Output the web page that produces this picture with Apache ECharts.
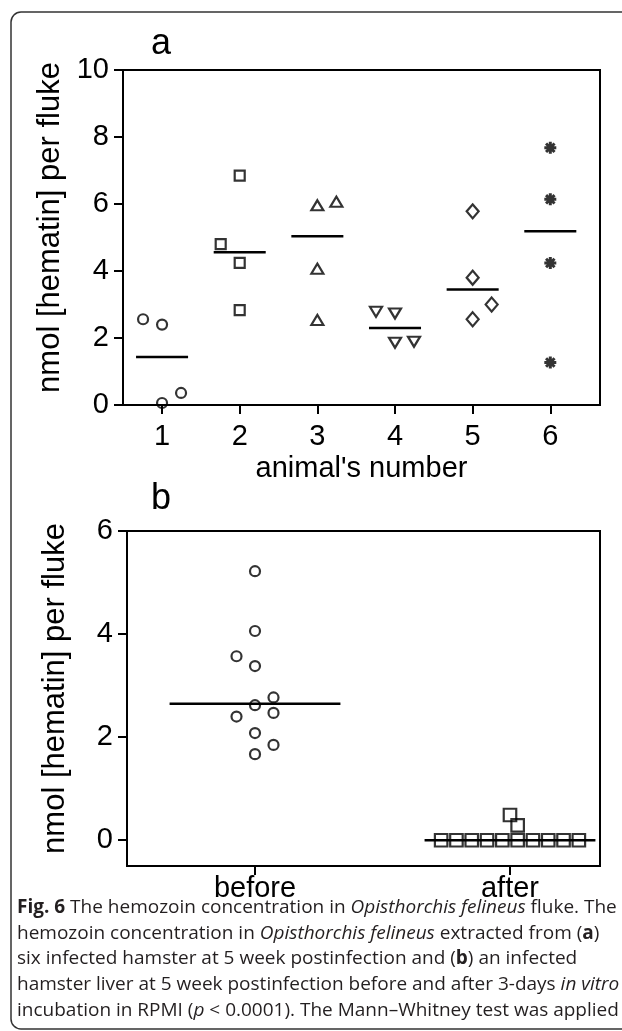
<!DOCTYPE html>
<html><head><meta charset="utf-8">
<script src="https://cdn.jsdelivr.net/npm/echarts@6/dist/echarts.min.js"></script>
<style>html,body{margin:0;padding:0;background:#fff}#c{width:622px;height:1031px}</style>
</head><body><div id="c"></div>
<script>
// ---------- data ----------
const animalCategories = ['1', '2', '3', '4', '5', '6'];
const animalValues = [
  [2.56, 2.40, 0.06, 0.36],
  [6.85, 4.80, 4.24, 2.83],
  [5.96, 6.07, 4.07, 2.54],
  [2.78, 2.73, 1.86, 1.89],
  [5.78, 3.80, 2.56, 3.00],
  [7.68, 6.14, 4.24, 1.27]
];
// dodge slot of each point
const animalSlots = [
  [-1, 0, 0, 1],
  [0, -1, 0, 0],
  [0, 1, 0, 0],
  [-1, 0, 0, 1],
  [0, 0, 0, 1],
  [0, 0, 0, 0]
];
const animalMedians = [1.43, 4.56, 5.04, 2.30, 3.45, 5.19];
const animalTicksY = [0, 2, 4, 6, 8, 10];

const stageCategories = ['before', 'after'];
const beforeValues = [5.22, 4.06, 3.57, 3.38, 2.77, 2.62, 2.47, 2.40, 2.08, 1.85, 1.67];
const beforeSlots = [0, 0, -1, 0, 1, 0, 1, -1, 0, 1, 0];
const afterValues = [0, 0, 0, 0, 0, 0, 0, 0, 0, 0, 0.49, 0.29];
const afterSlots = [-4.5, -3.5, -2.5, -1.5, -0.5, 0.5, 1.5, 2.5, 3.5, 4.5, 0, 0.5];
const stageMedians = [2.65, 0];
const stageTicksY = [0, 2, 4, 6];

const axisTitle = 'nmol [hematin] per fluke';
const xTitleA = "animal's number";
const captionLines = [
  '{b|Fig. 6} The hemozoin concentration in {i|Opisthorchis felineus} fluke. The',
  'hemozoin concentration in {i|Opisthorchis felineus} extracted from ({b|a})',
  'six infected hamster at 5 week postinfection and ({b|b}) an infected',
  'hamster liver at 5 week postinfection before and after 3-days {i|in vitro}',
  'incubation in RPMI ({i|p} < 0.0001). The Mann\u2013Whitney test was applied'
];

// ---------- layout / style ----------
const FONT = 'Liberation Sans, Arial, sans-serif';
const CAPFONT = 'Open Sans, sans-serif';
const gridA = {left: 123, top: 70, width: 477, height: 335};
const gridB = {left: 127, top: 531, width: 473, height: 335};
const xA = {min: 0.497, max: 6.64};
const xB = {min: 0.498, max: 2.353};
const stepA = (xA.max - xA.min) / gridA.width * 19;
const stepB = (xB.max - xB.min) / gridB.width * 18.5;
const stepB2 = (xB.max - xB.min) / gridB.width * 15.3;
const HALF = 0.335;

const chart = echarts.init(document.getElementById('c'), null, {renderer: 'canvas'});

function hollow(extra) {
  return Object.assign({color: 'rgba(0,0,0,0)', borderColor: '#000', borderWidth: 2.2}, extra || {});
}
const markerStyles = [
  {symbol: 'circle', symbolSize: 10},
  {symbol: 'rect', symbolSize: 10},
  {symbol: 'triangle', symbolSize: [12, 10]},
  {symbol: 'triangle', symbolSize: [12, 10], symbolRotate: 180},
  {symbol: 'diamond', symbolSize: [12, 14]},
  {symbol: 'path://M0,-1L0,1M-1,0L1,0M-0.707,-0.707L0.707,0.707M-0.707,0.707L0.707,-0.707', symbolSize: 12}
];

function xAxisCfg(gridIndex, range, ticks, cats, margin, name, nameGap) {
  return {
    type: 'value', gridIndex, min: range.min, max: range.max,
    axisLine: {show: true, onZero: false, lineStyle: {color: '#000', width: 2}},
    axisTick: {show: true, customValues: ticks, length: 9, lineStyle: {color: '#000', width: 2}},
    axisLabel: {customValues: ticks, margin, fontSize: 29, fontFamily: FONT, color: '#000',
      formatter: v => cats[Math.round(v) - 1]},
    splitLine: {show: false},
    name: name || '', nameLocation: 'middle', nameGap: nameGap || 0,
    nameTextStyle: {fontSize: 29, fontFamily: FONT, color: '#000'}
  };
}
function yAxisCfg(gridIndex, min, max, ticks) {
  return {
    type: 'value', gridIndex, min, max,
    axisLine: {show: true, onZero: false, lineStyle: {color: '#000', width: 2}},
    axisTick: {show: true, customValues: ticks, length: 9, lineStyle: {color: '#000', width: 2}},
    axisLabel: {customValues: ticks, margin: 14, fontSize: 29, fontFamily: FONT, color: '#000'},
    splitLine: {show: false},
    name: axisTitle, nameLocation: 'middle', nameRotate: 90, nameGap: 56,
    nameTextStyle: {fontSize: 31, fontFamily: FONT, color: '#000', padding: [0, 0, 0, 20]}
  };
}

function medianSeries(xIdx, yIdx, medians) {
  return {
    type: 'custom', xAxisIndex: xIdx, yAxisIndex: yIdx, z: 1,
    data: medians.map((m, i) => [i + 1, m]),
    renderItem(params, api) {
      const c = api.value(0), m = api.value(1);
      const p1 = api.coord([c - HALF, m]), p2 = api.coord([c + HALF, m]);
      return {type: 'line', shape: {x1: p1[0], y1: p1[1], x2: p2[0], y2: p2[1]},
        style: {stroke: '#000', lineWidth: 2.5}};
    }
  };
}

const series = [];
animalValues.forEach((vals, g) => {
  const ms = markerStyles[g];
  series.push(Object.assign({
    type: 'scatter', xAxisIndex: 0, yAxisIndex: 0, z: 3, clip: false,
    name: animalCategories[g],
    data: vals.map((v, i) => [g + 1 + animalSlots[g][i] * stepA, v]),
    itemStyle: hollow(g === 5 ? {borderWidth: 3} : {}),
    emphasis: {disabled: true}
  }, ms));
});
series.push(medianSeries(0, 0, animalMedians));
series.push({
  type: 'scatter', xAxisIndex: 1, yAxisIndex: 1, z: 3, clip: false, name: stageCategories[0],
  symbol: 'circle', symbolSize: 10,
  data: beforeValues.map((v, i) => [1 + beforeSlots[i] * stepB, v]),
  itemStyle: hollow(), emphasis: {disabled: true}
});
series.push({
  type: 'scatter', xAxisIndex: 1, yAxisIndex: 1, z: 3, clip: false, name: stageCategories[1],
  symbol: 'rect', symbolSize: 12.5,
  data: afterValues.map((v, i) => [2 + afterSlots[i] * stepB2, v]),
  itemStyle: hollow(), emphasis: {disabled: true}
});
series.push(medianSeries(1, 1, stageMedians));

const capStyle = {fontSize: 19, fontFamily: CAPFONT, fill: '#231f20'};
const captionGraphics = captionLines.map((t, i) => ({
  type: 'text', left: 17, top: 898 + i * 25.7, z: 10,
  style: Object.assign({
    text: t,
    rich: {
      b: Object.assign({fontWeight: 'bold'}, capStyle),
      i: Object.assign({fontStyle: 'italic'}, capStyle)
    }
  }, capStyle)
}));

chart.setOption({
  animation: false,
  backgroundColor: '#fff',
  grid: [
    Object.assign({show: true, borderColor: '#000', borderWidth: 2, backgroundColor: 'transparent'}, gridA),
    Object.assign({show: true, borderColor: '#000', borderWidth: 2, backgroundColor: 'transparent'}, gridB)
  ],
  xAxis: [
    xAxisCfg(0, xA, [1, 2, 3, 4, 5, 6], animalCategories, 17, xTitleA, 49),
    xAxisCfg(1, xB, [1, 2], stageCategories, 8)
  ],
  yAxis: [
    yAxisCfg(0, 0, 10, animalTicksY),
    yAxisCfg(1, -0.5, 6, stageTicksY)
  ],
  series,
  graphic: [
    {type: 'rect', z: 0, shape: {x: 11, y: 12, width: 640, height: 1017, r: 10},
      style: {fill: 'none', stroke: '#333', lineWidth: 1.5}},
    {type: 'text', left: 151, top: 26, style: {text: 'a', fontSize: 36, fontFamily: FONT, fill: '#000'}},
    {type: 'text', left: 151, top: 481, style: {text: 'b', fontSize: 36, fontFamily: FONT, fill: '#000'}}
  ].concat(captionGraphics)
});
</script></body></html>
